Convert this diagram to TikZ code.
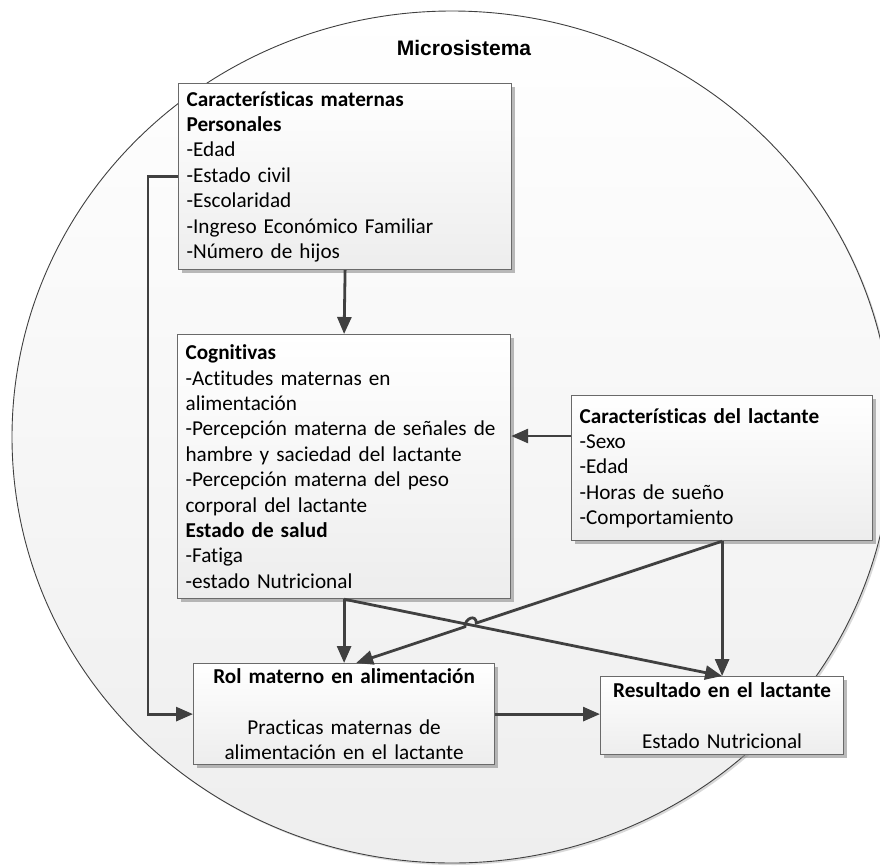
\documentclass[tikz,border=0pt]{standalone}
\usepackage{fontspec}
\setmainfont{Carlito}[Ligatures=NoCommon]
\newfontfamily\titlefont{Liberation Sans}
\usetikzlibrary{calc,shadows,arrows.meta,intersections}
\definecolor{lineclr}{HTML}{404040}
\definecolor{boxline}{HTML}{6A6A6A}
\definecolor{boxbot}{HTML}{EDEDED}
\definecolor{circbot}{HTML}{EEEEEE}
\tikzset{
  box/.style={draw=boxline, line width=1.2pt, top color=white, bottom color=boxbot,
    drop shadow={shadow xshift=3.5pt, shadow yshift=-3.5pt, fill=black!45, opacity=0.6},
    inner xsep=8pt, inner ysep=0pt, font=\fontsize{21.2}{25.4}\selectfont,
    anchor=north west},
  leftbox/.style={box, align=left},
  midbox/.style={box, align=center},
  conn/.style={draw=lineclr, line width=2.8pt, -{Triangle[length=17pt,width=14pt]}},
}
\begin{document}
\begin{tikzpicture}[x=1pt,y=-1pt]
\useasboundingbox (0,0) rectangle (880,865);
% background circle
\draw[draw=lineclr, line width=0.9pt, top color=white, bottom color=circbot,
      drop shadow={shadow xshift=2pt, shadow yshift=-2pt, fill=black!30, opacity=0.5}]
  (452,437) ellipse [x radius=440, y radius=426];
\node (title) at (464,48) {\titlefont\bfseries\fontsize{21}{24}\selectfont Microsistema};

\node[leftbox, text width=317pt, minimum height=186pt] (b1) at (178,83)
  {\textbf{Características maternas}\\
   \textbf{Personales}\\
   -Edad\\
   -Estado civil\\
   -Escolaridad\\
   -Ingreso Económico Familiar\\
   -Número de hijos};

\node[leftbox, text width=317pt, minimum height=264pt] (b2) at (177,334)
  {\textbf{Cognitivas}\\
   -Actitudes maternas en\\
   alimentación\\
   -Percepción materna de señales de\\
   hambre y saciedad del lactante\\
   -Percepción materna del peso\\
   corporal del lactante\\
   \textbf{Estado de salud}\\
   -Fatiga\\
   -estado Nutricional};

\node[leftbox, text width=285pt, minimum height=145pt] (b3) at (571,395)
  {\textbf{Características del lactante}\\
   -Sexo\\
   -Edad\\
   -Horas de sueño\\
   -Comportamiento};

\node[midbox, text width=285pt, minimum height=101pt] (rol) at (193,663)
  {\textbf{Rol materno en alimentación}\\[25.4pt]
   Practicas maternas de\\
   alimentación en el lactante};

\node[midbox, text width=227pt, minimum height=78pt] (res) at (600,676)
  {\textbf{Resultado en el lactante}\\[25.4pt]
   Estado Nutricional};

% connectors
\draw[conn] (b1.south) -- (b2.north);
\draw[conn] (b1.west) -- ($(b1.west)+(-30,0)$) |- (rol.west);
\coordinate (b3in) at ($(b3.north west)+(0,41)$);
\draw[conn] (b3in) -- (b3in -| b2.east);
\draw[conn] (b2.south) -- (b2.south |- rol.north);
\draw[conn] (b2.south) -- (res.north);
\draw[conn] (b3.south) -- (res.north);
\draw[conn] (rol.east) -- (rol.east -| res.west);

\coordinate (rolin) at ($(rol.north)+(12,0)$);
\path[name path=pA] (b2.south) -- (res.north);
\path[name path=pB] (b3.south) -- (rolin);
\path[name intersections={of=pA and pB, by=hopc}];
\coordinate (h1) at ($(hopc)!6pt!(b3.south)$);
\coordinate (h2) at ($(hopc)!6pt!(rolin)$);
\draw[conn] (b3.south) -- (h1) .. controls ($(h1)+(0,-9)$) and ($(h2)+(0,-9)$) .. (h2) -- (rolin);
\end{tikzpicture}
\end{document}
